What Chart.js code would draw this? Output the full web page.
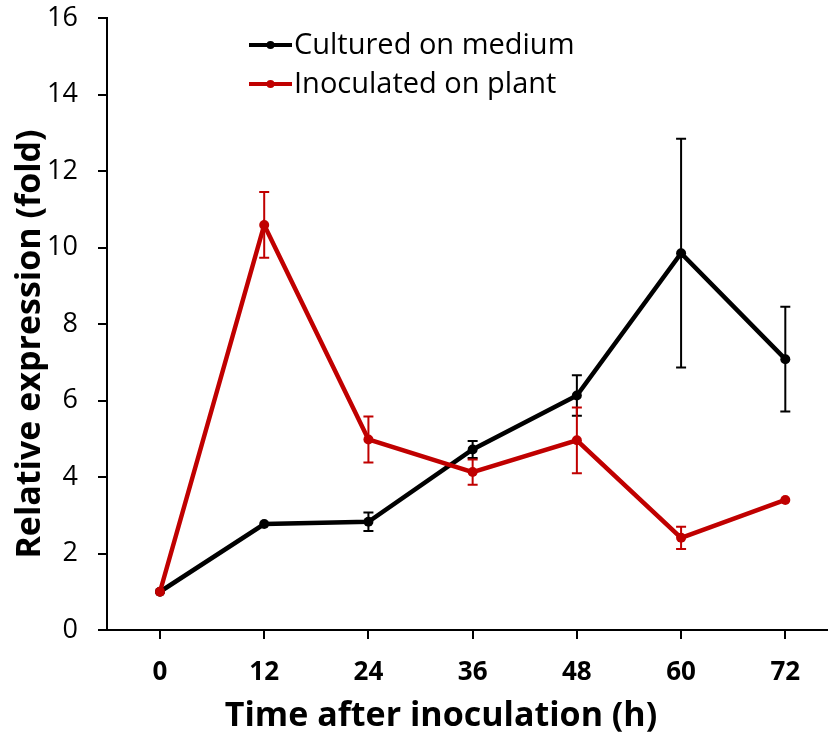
<!DOCTYPE html>
<html><head><meta charset="utf-8">
<script src="https://cdn.jsdelivr.net/npm/chart.js@4.4.1/dist/chart.umd.min.js"></script>
<style>html,body{margin:0;padding:0;background:#fff;}#wrap{width:832px;height:738px;}</style>
</head><body><div id="wrap"><canvas id="c" width="832" height="738"></canvas></div>
<script>
const hours = [0, 12, 24, 36, 48, 60, 72];
const mediumValues = [1.0, 2.77, 2.83, 4.72, 6.13, 9.85, 7.08];
const mediumErrors = [0, 0, 0.24, 0.22, 0.53, 2.99, 1.37];
const plantValues = [1.0, 10.59, 4.98, 4.13, 4.96, 2.41, 3.40];
const plantErrors = [0, 0.86, 0.60, 0.33, 0.86, 0.29, 0];
const yTicks = [0, 2, 4, 6, 8, 10, 12, 14, 16];
const xTitle = 'Time after inoculation (h)';
const yTitle = 'Relative expression (fold)';
const FONT = '"Open Sans", "Liberation Sans", sans-serif';
const BLACK = '#000000', RED = '#C00000';

const errorBars = {
  id: 'errorBars',
  afterDatasetsDraw(chart) {
    const ctx = chart.ctx, ys = chart.scales.y;
    chart.data.datasets.forEach((ds, i) => {
      const meta = chart.getDatasetMeta(i);
      ctx.save();
      ctx.strokeStyle = ds.borderColor; ctx.lineWidth = 2;
      meta.data.forEach((pt, j) => {
        const e = ds.errors[j]; if (!e) return;
        const v = ds.data[j].y;
        const yt = ys.getPixelForValue(v + e), yb = ys.getPixelForValue(v - e);
        ctx.beginPath();
        ctx.moveTo(pt.x, yt); ctx.lineTo(pt.x, yb);
        ctx.moveTo(pt.x - 5, yt); ctx.lineTo(pt.x + 5, yt);
        ctx.moveTo(pt.x - 5, yb); ctx.lineTo(pt.x + 5, yb);
        ctx.stroke();
      });
      ctx.restore();
    });
  }
};
const annotations = {
  id: 'annotations',
  afterDraw(chart) {
    const ctx = chart.ctx;
    const items = [chart.data.datasets[0], chart.data.datasets[1]];
    const x0 = 249, x1 = 292;
    items.forEach((ds, i) => {
      const y = 45 + i * 39;
      ctx.save();
      ctx.strokeStyle = ds.borderColor; ctx.lineWidth = 4;
      ctx.beginPath(); ctx.moveTo(x0, y); ctx.lineTo(x1, y); ctx.stroke();
      ctx.fillStyle = ds.borderColor;
      ctx.beginPath(); ctx.arc((x0 + x1) / 2, y, 4, 0, Math.PI * 2); ctx.fill();
      ctx.fillStyle = '#000'; ctx.font = '29px ' + FONT; ctx.textBaseline = 'middle';
      ctx.fillText(ds.label, x1 + 2, y + 1);
      ctx.restore();
    });
    ctx.save();
    ctx.fillStyle = '#000';
    ctx.font = 'bold 34px ' + FONT;
    ctx.textAlign = 'center'; ctx.textBaseline = 'alphabetic';
    ctx.fillText(xTitle, 441, 726);
    ctx.translate(40, 344);
    ctx.rotate(-Math.PI / 2);
    ctx.fillText(yTitle, 0, 0);
    ctx.restore();
  }
};

new Chart(document.getElementById('c'), {
  type: 'line',
  data: {
    datasets: [
      { label: 'Cultured on medium', data: hours.map((h, i) => ({ x: h, y: mediumValues[i] })), errors: mediumErrors,
        borderColor: BLACK, backgroundColor: BLACK,
        borderWidth: 4.5, pointRadius: 5, pointBorderWidth: 0, pointBackgroundColor: BLACK, tension: 0, order: 2 },
      { label: 'Inoculated on plant', data: hours.map((h, i) => ({ x: h, y: plantValues[i] })), errors: plantErrors,
        borderColor: RED, backgroundColor: RED,
        borderWidth: 4.5, pointRadius: 5, pointBorderWidth: 0, pointBackgroundColor: RED, tension: 0, order: 1 }
    ]
  },
  options: {
    responsive: false, animation: false, devicePixelRatio: 1,
    layout: { padding: { top: 18, right: 0, left: 0, bottom: 0 } },
    plugins: { legend: { display: false }, tooltip: { enabled: false } },
    scales: {
      x: {
        type: 'linear', min: -6.1, max: 76.8,
        afterFit(s) { s.height = 108; s.paddingLeft = 0; s.paddingRight = 0; },
        afterBuildTicks(s) { s.ticks = hours.map(v => ({ value: v })); },
        grid: { drawOnChartArea: false, drawTicks: true, tickLength: 9, color: '#000', lineWidth: 2 },
        border: { color: '#000', width: 2 },
        ticks: { color: '#000', font: { family: FONT, size: 26, weight: 'bold' }, padding: 18, maxRotation: 0, callback: v => String(v) },
        title: { display: false }
      },
      y: {
        min: 0, max: 16,
        afterFit(s) { s.width = 107; s.paddingTop = 0; s.paddingBottom = 0; },
        afterBuildTicks(s) { s.ticks = yTicks.map(v => ({ value: v })); },
        grid: { drawOnChartArea: false, drawTicks: true, tickLength: 9, color: '#000', lineWidth: 2 },
        border: { color: '#000', width: 2 },
        ticks: { color: '#000', font: { family: FONT, size: 27 }, padding: 20 },
        title: { display: false }
      }
    }
  },
  plugins: [errorBars, annotations]
});
</script></body></html>
